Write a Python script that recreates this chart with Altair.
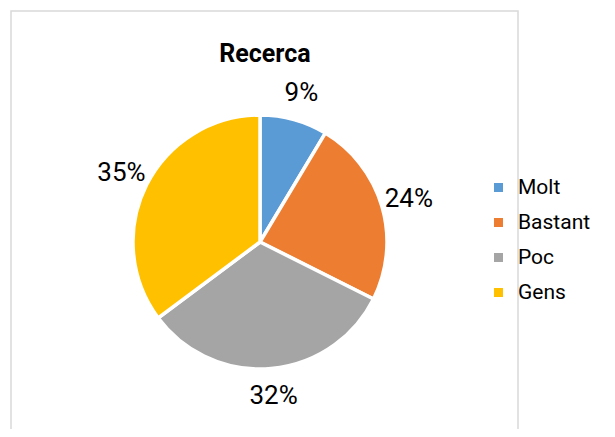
import altair as alt
import pandas as pd

categories = ["Molt", "Bastant", "Poc", "Gens"]
values = [8.6, 23.8, 32.4, 35.2]
colors = ["#5B9BD5", "#ED7D31", "#A5A5A5", "#FFC000"]
title_text = "Recerca"

df = pd.DataFrame({"cat": categories, "value": values, "idx": list(range(len(categories)))})

FONT = "Roboto, Liberation Sans, sans-serif"
CX, CY = 252, 234
R = 127

base = alt.Chart(df)

color = alt.Color(
    "cat:N",
    scale=alt.Scale(domain=categories, range=colors),
    sort=categories,
    legend=alt.Legend(
        title=None,
        orient="none",
        legendX=480,
        legendY=169,
        symbolType="square",
        symbolSize=81,
        symbolStrokeWidth=0,
        labelFont=FONT,
        labelFontSize=21,
        labelColor="#000000",
        labelOffset=9,
        rowPadding=13,
        padding=0,
    ),
)

pie = base.mark_arc(outerRadius=R, stroke="white", strokeWidth=3.5).encode(
    theta=alt.Theta("value:Q", stack=True),
    color=color,
    order=alt.Order("idx:Q"),
    x=alt.value(CX),
    y=alt.value(CY),
)

labels = base.transform_calculate(
    lbl="format(datum.value / 100, '.0%')"
).mark_text(font=FONT, fontSize=26, color="#000000", align="center", baseline="middle").encode(
    theta=alt.Theta("value:Q", stack=True),
    order=alt.Order("idx:Q"),
    radius=alt.value(155),
    text="lbl:N",
    x=alt.value(CX),
    y=alt.value(CY),
)

frame_df = pd.DataFrame({"t": [title_text]})
frame = alt.Chart(frame_df).mark_rect(fill="white", stroke="#D9D9D9", strokeWidth=1.5).encode(
    x=alt.value(3), x2=alt.value(510), y=alt.value(3), y2=alt.value(440)
)
title = alt.Chart(frame_df).mark_text(
    font=FONT, fontSize=25, fontWeight="bold", color="#000000", align="center", baseline="alphabetic"
).encode(text="t:N", x=alt.value(257), y=alt.value(54))

chart = alt.layer(frame, title, pie, labels).properties(
    width=599, height=421, autosize=alt.AutoSizeParams(type="none"), padding=0
).configure_view(stroke=None)

chart.save("out.html", embed_options={"renderer": "svg", "actions": False})
